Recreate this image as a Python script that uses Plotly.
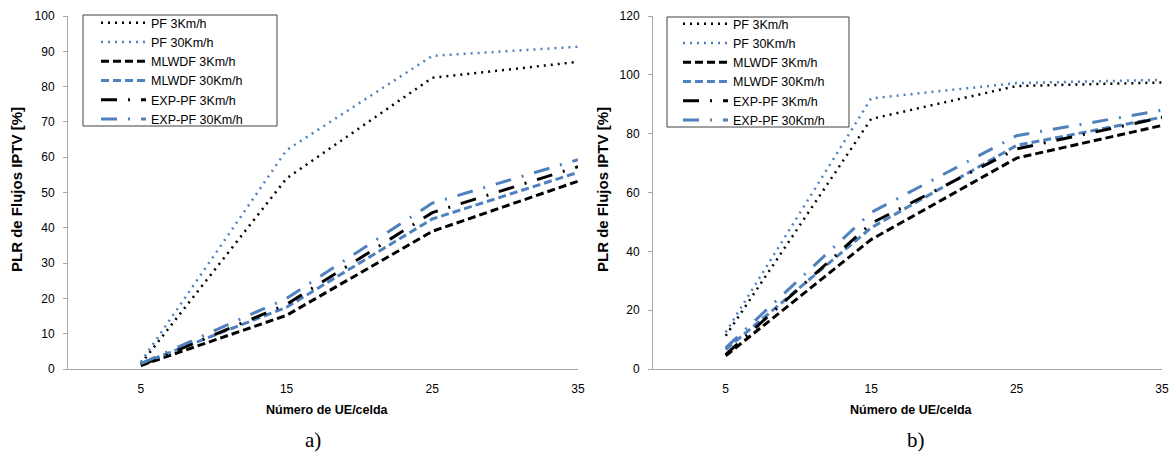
import plotly.graph_objects as go

users = [5, 15, 25, 35]
x_ticks = [5, 15, 25, 35]

series_names = ["PF 3Km/h", "PF 30Km/h", "MLWDF 3Km/h", "MLWDF 30Km/h", "EXP-PF 3Km/h", "EXP-PF 30Km/h"]

# panel a)
a_pf3 = [1.5, 54, 82.5, 87]
a_pf30 = [2, 62, 88.7, 91.3]
a_mlwdf3 = [1, 15.2, 39, 53.2]
a_mlwdf30 = [1.5, 17.5, 42.5, 55.7]
a_exp3 = [1, 18.3, 44.3, 57.3]
a_exp30 = [1.5, 20, 47, 59.3]

# panel b)
b_pf3 = [11.3, 85, 96.2, 97.4]
b_pf30 = [12.5, 92, 97.2, 98.3]
b_mlwdf3 = [4.5, 44, 71.7, 82.8]
b_mlwdf30 = [6.6, 48, 76, 85.6]
b_exp3 = [4.9, 49.5, 74.8, 85.5]
b_exp30 = [7.2, 53.2, 79.3, 88]

BLUE = "#4F81BD"
BLACK = "#000000"
colors = [BLACK, BLUE, BLACK, BLUE, BLACK, BLUE]
dashes = ["2px,5px", "2px,5px", "8px,4px", "8px,4px", "16px,11px,2px,11px", "16px,11px,2px,11px"]
widths = [2.5, 2.5, 3, 3, 3, 3]

panel_a = [a_pf3, a_pf30, a_mlwdf3, a_mlwdf30, a_exp3, a_exp30]
panel_b = [b_pf3, b_pf30, b_mlwdf3, b_mlwdf30, b_exp3, b_exp30]

fig = go.Figure()
for i, name in enumerate(series_names):
    fig.add_trace(go.Scatter(x=users, y=panel_a[i], mode="lines", name=name,
                             line=dict(color=colors[i], dash=dashes[i], width=widths[i]),
                             xaxis="x", yaxis="y", legend="legend"))
for i, name in enumerate(series_names):
    fig.add_trace(go.Scatter(x=users, y=panel_b[i], mode="lines", name=name,
                             line=dict(color=colors[i], dash=dashes[i], width=widths[i]),
                             xaxis="x2", yaxis="y2", legend="legend2"))

FW, FH = 1173, 458


def px(x):
    return x / FW


def py(y):
    return 1 - y / FH


SANS = "Liberation Sans, Arial, sans-serif"
tick_font = dict(family=SANS, size=12, color="#000")
axis_common = dict(showgrid=False, zeroline=False, showline=True, linecolor="#a6a6a6", linewidth=1)

ydom = [py(369), py(16)]
legend_common = dict(xanchor="left", yanchor="top", borderwidth=0, bgcolor="rgba(0,0,0,0)",
                     font=dict(family=SANS, size=12.5, color="#000"),
                     tracegroupgap=0, itemwidth=45)
fig.update_layout(
    width=FW, height=FH,
    margin=dict(l=0, r=0, t=0, b=0, autoexpand=False),
    paper_bgcolor="white", plot_bgcolor="white",
    xaxis=dict(domain=[px(68), px(578)], range=[0, 35], tickvals=x_ticks, ticks="",
               ticklabelstandoff=9, tickfont=tick_font, anchor="y", **axis_common),
    yaxis=dict(domain=ydom, range=[0, 100], dtick=10, ticks="outside", ticklen=4, tickcolor="#a6a6a6",
               ticklabelstandoff=6, tickfont=tick_font, anchor="x", **axis_common),
    xaxis2=dict(domain=[px(653), px(1162)], range=[0, 35], tickvals=x_ticks, ticks="",
                ticklabelstandoff=9, tickfont=tick_font, anchor="y2", **axis_common),
    yaxis2=dict(domain=ydom, range=[0, 120], dtick=20, ticks="outside", ticklen=4, tickcolor="#a6a6a6",
                ticklabelstandoff=6, tickfont=tick_font, anchor="x2", **axis_common),
    legend=dict(x=px(96), y=py(8), **legend_common),
    legend2=dict(x=px(678), y=py(9), **legend_common),
    showlegend=True,
)

# legend frames
fig.add_shape(type="rect", xref="paper", yref="paper", x0=px(83), x1=px(277), y0=py(126), y1=py(15),
              line=dict(color="#404040", width=1), fillcolor="rgba(0,0,0,0)", layer="above")
fig.add_shape(type="rect", xref="paper", yref="paper", x0=px(667), x1=px(849), y0=py(127), y1=py(17),
              line=dict(color="#404040", width=1), fillcolor="rgba(0,0,0,0)", layer="above")

ytitle_font = dict(family=SANS, size=15, color="#000")
xtitle_font = dict(family=SANS, size=12.5, color="#000")
common_ann = dict(xref="paper", yref="paper", showarrow=False, xanchor="center", yanchor="middle")
ann = []
ann.append(dict(text="<b>PLR de Flujos IPTV [%]</b>", x=px(17), y=py(190), textangle=-90, font=ytitle_font, **common_ann))
ann.append(dict(text="<b>PLR de Flujos IPTV [%]</b>", x=px(603), y=py(190), textangle=-90, font=ytitle_font, **common_ann))
ann.append(dict(text="<b>Número de UE/celda</b>", x=px(327), y=py(410), font=xtitle_font, **common_ann))
ann.append(dict(text="<b>Número de UE/celda</b>", x=px(912), y=py(410), font=xtitle_font, **common_ann))
label_font = dict(family="Liberation Serif, DejaVu Serif, serif", size=21, color="#000")
ann.append(dict(text="a)", x=px(313), y=py(440), font=label_font, **common_ann))
ann.append(dict(text="b)", x=px(916), y=py(440), font=label_font, **common_ann))
fig.update_layout(annotations=ann)

fig.write_html("out.html", config={"displayModeBar": False},
               post_script="document.body.style.margin='0';")
